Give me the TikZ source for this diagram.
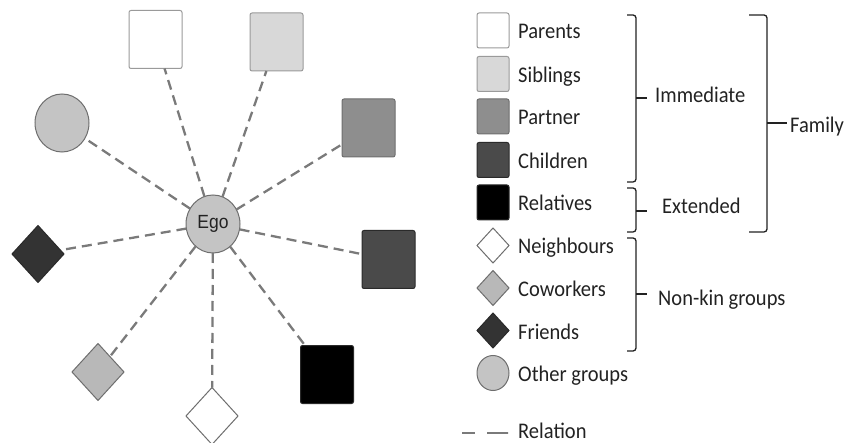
\documentclass[tikz,border=0pt]{standalone}
\usepackage{fontspec}
\setmainfont{Carlito}
\newfontfamily\egofont{Liberation Sans}
\usetikzlibrary{shapes.geometric}
\definecolor{edgec}{HTML}{7A7A7A}
\definecolor{txt}{HTML}{222222}
\definecolor{cPar}{HTML}{FFFFFF}
\definecolor{cSib}{HTML}{D8D8D8}
\definecolor{cPrt}{HTML}{8E8E8E}
\definecolor{cChd}{HTML}{4A4A4A}
\definecolor{cRel}{HTML}{000000}
\definecolor{cNei}{HTML}{FFFFFF}
\definecolor{cCow}{HTML}{B8B8B8}
\definecolor{cFri}{HTML}{333333}
\definecolor{cOth}{HTML}{C4C4C4}
\definecolor{bLight}{HTML}{9A9A9A}
\definecolor{bMid}{HTML}{6E6E6E}
\definecolor{bDark}{HTML}{2A2A2A}
\newcommand{\vstr}[1]{\scalebox{1}[1.09]{#1}}
\begin{document}
\begin{tikzpicture}[x=1pt,y=-1pt,
  shp/.style={inner sep=0pt, outer sep=0pt, line width=1pt},
  bigsq/.style={shp, rectangle, rounded corners=2pt, minimum width=53pt, minimum height=58pt},
  smsq/.style={shp, rectangle, rounded corners=2pt, minimum width=32pt, minimum height=35pt},
  bigdia/.style={shp, diamond, minimum width=52pt, minimum height=57pt},
  smdia/.style={shp, diamond, minimum width=32pt, minimum height=35pt},
  bigcirc/.style={shp, ellipse, minimum width=54pt, minimum height=58pt},
  smcirc/.style={shp, ellipse, minimum width=32pt, minimum height=35pt},
  kPar/.style={draw=bLight, fill=cPar},
  kSib/.style={draw=bLight, fill=cSib},
  kPrt/.style={draw=bMid, fill=cPrt},
  kChd/.style={draw=bDark, fill=cChd},
  kRel/.style={draw=bDark, fill=cRel},
  kNei/.style={draw=bMid, fill=cNei},
  kCow/.style={draw=bMid, fill=cCow},
  kFri/.style={draw=bDark, fill=cFri},
  kOth/.style={draw=bMid, fill=cOth},
  relline/.style={draw=edgec, line width=2.3pt, dash pattern=on 10pt off 6pt},
  lbl/.style={anchor=base west, inner sep=0pt, text=txt, font=\fontsize{20.5}{24}\selectfont},
  brc/.style={draw=txt, line width=1.3pt, rounded corners=3pt}
]
\useasboundingbox (0,0) rectangle (848,443);

% ---------------- network ----------------
\node[bigcirc, kOth, font=\egofont\fontsize{17.5}{20}\selectfont, text=txt] (ego) at (213,224) {\vstr{Ego}};
\node[bigsq, kPar] (par) at (155.5,39.5) {};
\node[bigsq, kSib] (sib) at (276.5,42) {};
\node[bigsq, kPrt] (prt) at (368.5,128) {};
\node[bigsq, kChd] (chd) at (388.5,259.5) {};
\node[bigsq, kRel] (rel) at (327,374.5) {};
\node[bigdia, kNei] (nei) at (212,416) {};
\node[bigdia, kCow] (cow) at (98,372) {};
\node[bigdia, kFri] (fri) at (38,254) {};
\node[bigcirc, kOth] (oth) at (62,123) {};

\foreach \t in {par,sib,prt,chd,rel,nei,cow,fri,oth}
  \draw[relline] (ego) -- (\t);

% ---------------- legend ----------------
\node[smsq, kPar] (lpar) at (493,30.5) {};
\node[smsq, kSib] (lsib) at (493,74) {};
\node[smsq, kPrt] (lprt) at (493,116.5) {};
\node[smsq, kChd] (lchd) at (493,160) {};
\node[smsq, kRel] (lrel) at (493,202.5) {};
\node[smdia, kNei] (lnei) at (493,245.5) {};
\node[smdia, kCow] (lcow) at (493,288) {};
\node[smdia, kFri] (lfri) at (493,330.5) {};
\node[smcirc, kOth] (loth) at (493,373) {};

\node[lbl] (tpar) at (518,39) {\vstr{Parents}};
\node[lbl] (tsib) at (518,82.5) {\vstr{Siblings}};
\node[lbl] (tprt) at (518,125) {\vstr{Partner}};
\node[lbl] (tchd) at (518,168.5) {\vstr{Children}};
\node[lbl] (trel) at (518,211) {\vstr{Relatives}};
\node[lbl] (tnei) at (518,254) {\vstr{Neighbours}};
\node[lbl] (tcow) at (518,296.5) {\vstr{Coworkers}};
\node[lbl] (tfri) at (518,339) {\vstr{Friends}};
\node[lbl] (toth) at (518,381.5) {\vstr{Other groups}};

\coordinate (ra) at (462,433);
\coordinate (rb) at (508,433);
\draw[draw=edgec, line width=2.8pt, dash pattern=on 13pt off 12pt on 21pt off 0pt] (ra) -- (rb);
\node[lbl] (trelation) at (518,438) {\vstr{Relation}};

% ---------------- braces ----------------
\draw[brc] (627,15) -- (636,15) -- (636,182) -- (627,182);
\draw[brc] (636,98) -- (647,98);
\node[lbl] (timm) at (655,103) {\vstr{Immediate}};

\draw[brc] (627,188) -- (636,188) -- (636,232) -- (627,232);
\draw[brc] (636,211) -- (647,211);
\node[lbl] (text) at (662,214) {\vstr{Extended}};

\draw[brc] (627,238) -- (636,238) -- (636,351) -- (627,351);
\draw[brc] (636,294) -- (647,294);
\node[lbl] (tnon) at (658,306) {\vstr{Non-kin groups}};

\draw[brc] (749,15) -- (767,15) -- (767,232) -- (749,232);
\draw[brc] (767,123) -- (787,123);
\node[lbl] (tfam) at (790,133) {\vstr{Family}};
\end{tikzpicture}
\end{document}
